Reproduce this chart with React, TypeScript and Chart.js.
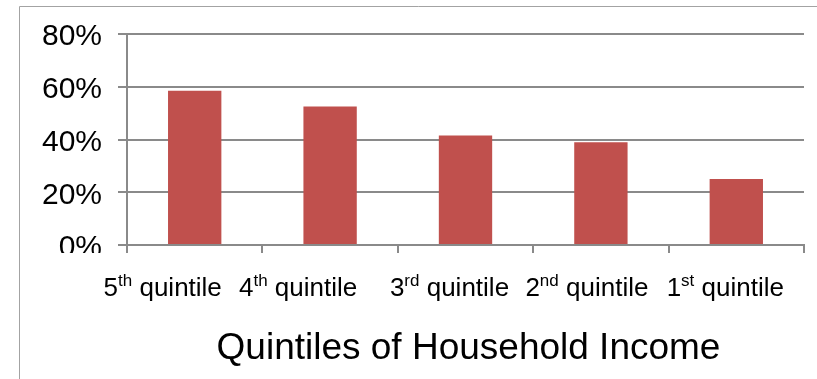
import React, { useEffect, useRef } from "react";
import { Chart, registerables } from "chart.js";

Chart.register(...registerables);

// Household income quintiles, highest first
const quintileNumbers = ["5", "4", "3", "2", "1"];
const ordinalSuffixes = ["th", "th", "rd", "nd", "st"];
const categories = quintileNumbers.map((n, i) => `${n}${ordinalSuffixes[i]} quintile`);

// Share (%) for each quintile
const shares = [58.5, 52.5, 41.5, 39, 25];

// Value axis ticks (%)
const yTicks = [0, 20, 40, 60, 80];

const axisTitle = "Quintiles of Household Income";

const FONT = '"Liberation Sans", Arial, Helvetica, sans-serif';
const GRID = "#8a8a8a";
const BAR = "#C0504D";

// Horizontal nudge for each category label relative to its category centre
const labelShift = [-32, -32, -16, -14, -11];

const decorations = {
  id: "decorations",
  beforeDraw(chart: any) {
    const { ctx, width, height } = chart;
    // The lowest value-axis label is cut off just under the baseline
    ctx.save();
    ctx.beginPath();
    ctx.rect(0, 0, width, height);
    ctx.rect(0, 253, 118, 18);
    ctx.clip("evenodd");
  },
  afterDraw(chart: any) {
    const { ctx, chartArea, width, height } = chart;
    ctx.restore();
    const xScale = chart.scales.x;

    ctx.save();
    // outer frame
    ctx.strokeStyle = "#a3a3a3";
    ctx.lineWidth = 1;
    ctx.beginPath();
    ctx.moveTo(19.5, height);
    ctx.lineTo(19.5, 6.5);
    ctx.lineTo(width, 6.5);
    ctx.stroke();

    // category labels with superscript ordinals
    ctx.fillStyle = "#000";
    ctx.textAlign = "left";
    ctx.textBaseline = "alphabetic";
    const mainFont = `26px ${FONT}`;
    const supFont = `17px ${FONT}`;
    const baseline = 296;
    const supBaseline = 286;
    categories.forEach((_, i) => {
      const num = quintileNumbers[i];
      const sup = ordinalSuffixes[i];
      const rest = " quintile";
      ctx.font = mainFont;
      const wNum = ctx.measureText(num).width;
      const wRest = ctx.measureText(rest).width;
      ctx.font = supFont;
      const wSup = ctx.measureText(sup).width;
      const total = wNum + wSup + wRest;
      let x = xScale.getPixelForValue(i) + labelShift[i] - total / 2;
      ctx.font = mainFont;
      ctx.fillText(num, x, baseline);
      x += wNum;
      ctx.font = supFont;
      ctx.fillText(sup, x, supBaseline);
      x += wSup;
      ctx.font = mainFont;
      ctx.fillText(rest, x, baseline);
    });

    // axis title
    ctx.font = `37px ${FONT}`;
    ctx.textAlign = "center";
    ctx.fillText(axisTitle, (chartArea.left + chartArea.right) / 2 + 3, 359);
    ctx.restore();
  },
};

export default function App() {
  const canvasRef = useRef<HTMLCanvasElement | null>(null);

  useEffect(() => {
    const canvas = canvasRef.current;
    if (!canvas) return;
    const chart = new Chart(canvas, {
      type: "bar",
      data: {
        labels: categories,
        datasets: [
          {
            data: shares,
            backgroundColor: BAR,
            borderWidth: 0,
            barPercentage: 0.394,
            categoryPercentage: 1,
          },
        ],
      },
      options: {
        animation: false,
        responsive: false,
        devicePixelRatio: 1,
        layout: { padding: { left: 0, top: 34, right: 13, bottom: 0 } },
        plugins: {
          legend: { display: false },
          tooltip: { enabled: false },
        },
        scales: {
          x: {
            type: "category",
            offset: true,
            grid: {
              display: true,
              drawOnChartArea: false,
              drawTicks: true,
              tickLength: 8,
              color: GRID,
              lineWidth: 2,
              offset: true,
            },
            border: { display: true, color: GRID, width: 2 },
            ticks: { display: false },
            afterFit: (scale: any) => {
              scale.height = 134;
            },
          },
          y: {
            min: 0,
            max: 80,
            afterBuildTicks: (scale: any) => {
              scale.ticks = yTicks.map((v) => ({ value: v }));
            },
            ticks: {
              padding: 16,
              labelOffset: 3,
              color: "#000",
              font: { family: FONT, size: 30 },
              callback: (v: any) => `${v}%`,
            },
            grid: { color: GRID, lineWidth: 2, tickLength: 9 },
            border: { display: true, color: GRID, width: 2 },
            afterFit: (scale: any) => {
              scale.width = 127;
            },
          },
        },
      },
      plugins: [decorations],
    });
    return () => chart.destroy();
  }, []);

  return (
    <div
      style={{
        position: "fixed",
        left: 0,
        top: 0,
        width: 817,
        height: 379,
        overflow: "hidden",
        background: "#fff",
      }}
    >
      <canvas ref={canvasRef} width={817} height={379} style={{ display: "block" }} />
    </div>
  );
}
